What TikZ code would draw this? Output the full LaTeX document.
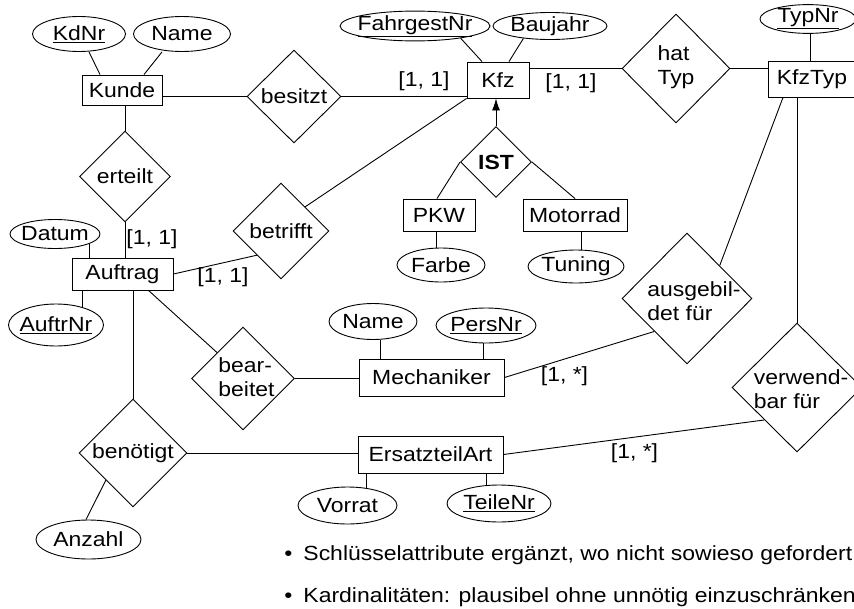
\documentclass[tikz,border=0pt]{standalone}
\usepackage{fontspec}
\setmainfont{Liberation Sans}[FakeStretch=1.12]
\usetikzlibrary{shapes.geometric,arrows.meta}

% text that does not widen its shape
\newcommand{\ztext}[1]{\makebox[0pt]{#1}}
% two left-aligned lines, shifted right by #1/2 and lowered
\newcommand{\zpair}[4]{\makebox[0pt]{\hspace{#1}\raisebox{#2}[0pt][0pt]{\begin{tabular}{@{}l@{}}#3\\#4\end{tabular}}}}

\tikzset{
  sz/.style n args={2}{minimum width=#1pt, minimum height=#2pt},
  ent/.style={draw, rectangle, inner sep=0pt},
  attr/.style={draw, ellipse, inner sep=0pt},
  rel/.style={draw, diamond, inner sep=0pt},
  card/.style={inner sep=0pt},
  note/.style={anchor=base west, inner sep=0pt},
}

\begin{document}
\begin{tikzpicture}[x=1pt, y=-1pt, line width=0.9pt,
  font=\fontsize{20.5}{24}\selectfont]
\useasboundingbox (0,0) rectangle (854,608);

% entities, attributes and relationships
\node[ent, sz={80}{30}] (kunde) at (122,90) {Kunde};
\node[attr, sz={93}{35}] (kdnr) at (79,34) {\ztext{\underline{KdNr}}};
\node[attr, sz={97}{35}] (kname) at (182,34) {\ztext{Name}};
\node[rel, sz={94}{93}] (besitzt) at (294,96.5) {\ztext{besitzt}};
\node[ent, sz={62}{36}] (kfz) at (498,80) {Kfz};
\node[attr, sz={150}{27}] (fgnr) at (415,26) {\ztext{\underline{FahrgestNr}}};
\node[attr, sz={114}{27}] (baujahr) at (550,26) {\ztext{Baujahr}};
\node[rel, sz={108}{109}] (hattyp) at (676,68.5) {\zpair{0pt}{-4pt}{hat}{Typ}};
\node[ent, sz={88}{36}] (kfztyp) at (812,79) {KfzTyp};
\node[attr, sz={96}{28}] (typnr) at (808,19) {\ztext{\underline{TypNr}}};
\node[rel, sz={71}{71}] (ist) at (496,162) {\ztext{\bfseries IST}};
\node[ent, sz={72}{32}] (pkw) at (439,215) {PKW};
\node[ent, sz={104}{32}] (motorrad) at (575,215) {Motorrad};
\node[attr, sz={88}{34}] (farbe) at (441,265) {\ztext{Farbe}};
\node[attr, sz={96}{33}] (tuning) at (576,266.5) {\ztext{Tuning}};
\node[rel, sz={91}{91}] (erteilt) at (125,176.5) {\ztext{erteilt}};
\node[ent, sz={101}{32}] (auftrag) at (122.5,274) {Auftrag};
\node[attr, sz={90}{29}] (datum) at (55,234) {\ztext{Datum}};
\node[attr, sz={95}{42}] (auftrnr) at (56,325) {\ztext{\underline{AuftrNr}}};
\node[rel, sz={96}{96}] (betrifft) at (281,231) {\ztext{betrifft}};
\node[rel, sz={103}{103}] (bearbeitet) at (243,378.5) {\zpair{7pt}{-6.5pt}{bear-}{beitet}};
\node[ent, sz={145}{37}] (mech) at (431.5,377.5) {Mechaniker};
\node[attr, sz={88}{36}] (mname) at (373,321.5) {\ztext{Name}};
\node[attr, sz={100}{35}] (persnr) at (486,325.5) {\ztext{\underline{PersNr}}};
\node[rel, sz={130}{131}] (ausgebildet) at (687,298.5) {\zpair{14pt}{-10.5pt}{ausgebil-}{det für}};
\node[rel, sz={130}{129}] (verwendbar) at (797,387.5) {\zpair{8pt}{-9.5pt}{verwend-}{bar für}};
\node[rel, sz={108}{108}] (benoetigt) at (133,453) {\ztext{benötigt}};
\node[ent, sz={145}{37}] (ersatzteil) at (430.5,454.5) {ErsatzteilArt};
\node[attr, sz={105}{39}] (anzahl) at (88.5,539.5) {\ztext{Anzahl}};
\node[attr, sz={99}{37}] (vorrat) at (347.5,505.5) {\ztext{Vorrat}};
\node[attr, sz={104}{37}] (teilenr) at (499,503.5) {\ztext{\underline{TeileNr}}};

% cardinalities
\node[card] (c1) at (424,81.5) {[1, 1]};
\node[card] (c2) at (571,83.5) {[1, 1]};
\node[card] (c3) at (152,239) {[1, 1]};
\node[card] (c4) at (223,277.5) {[1, 1]};
\node[card] (c5) at (564.5,376) {[1, *]};
\node[card] (c6) at (634.5,453) {[1, *]};

% connectors
\draw ([xshift=10pt]kdnr.south) -- ([xshift=-22pt]kunde.north);
\draw ([xshift=-20pt]kname.south) -- ([xshift=22pt]kunde.north);
\draw (kunde.east |- besitzt.west) -- (besitzt.west);
\draw (besitzt.east) -- (besitzt.east -| kfz.west);
\draw (kfz.east |- hattyp.west) -- (hattyp.west);
\draw (hattyp.east) -- (hattyp.east -| kfztyp.west);
\draw (fgnr.-15) -- ([xshift=-16pt]kfz.north);
\draw (baujahr.-155) -- ([xshift=11pt]kfz.north);
\draw ([xshift=2pt]typnr.south) -- ([xshift=2pt]typnr.south |- kfztyp.north);
\draw[-{Latex[length=12pt,width=8pt]}] (ist.north) -- (ist.north |- kfz.south);
\draw (ist.west) -- ([xshift=-2pt]pkw.north);
\draw (ist.east) -- (motorrad.north);
\draw ([xshift=-3pt]pkw.south) -- ([xshift=-3pt]pkw.south |- farbe.north);
\draw ([xshift=6pt]motorrad.south) -- ([xshift=6pt]motorrad.south |- tuning.north);
\draw (erteilt.north |- kunde.south) -- (erteilt.north);
\draw (erteilt.south) -- (erteilt.south |- auftrag.north);
\draw (datum.-16) -- (datum.-16 |- auftrag.north);
\draw (auftrnr.34) -- (auftrnr.34 |- auftrag.south);
\draw (auftrag.east) -- (betrifft.south west);
\draw (betrifft.north east) -- (kfz.south west);
\draw ([xshift=26pt]auftrag.south) -- (bearbeitet.north west);
\draw (bearbeitet.east) -- (bearbeitet.east -| mech.west);
\draw (mname.-68) -- (mname.-68 |- mech.north);
\draw ([xshift=-3pt]persnr.south) -- ([xshift=-3pt]persnr.south |- mech.north);
\draw (mech.east) -- (ausgebildet.south west);
\draw (ausgebildet.north east) -- ([xshift=-29pt]kfztyp.south);
\draw (verwendbar.north) -- (verwendbar.north |- kfztyp.south);
\draw (ersatzteil.east) -- (verwendbar.south west);
\draw (benoetigt.north |- auftrag.south) -- (benoetigt.north);
\draw (benoetigt.east) -- (benoetigt.east -| ersatzteil.west);
\draw (benoetigt.south west) -- (anzahl.97);
\draw (vorrat.43) -- (vorrat.43 |- ersatzteil.south);
\draw (teilenr.124) -- (teilenr.124 |- ersatzteil.south);

% notes
\node[note] (note1) at (284,560) {\makebox[19pt][l]{\textbullet}Schlüsselattribute ergänzt, wo nicht sowieso gefordert};
\node[note] (note2) at (284,602) {\makebox[19pt][l]{\textbullet}Kardinalitäten: plausibel ohne unnötig einzuschränken};
\end{tikzpicture}
\end{document}
